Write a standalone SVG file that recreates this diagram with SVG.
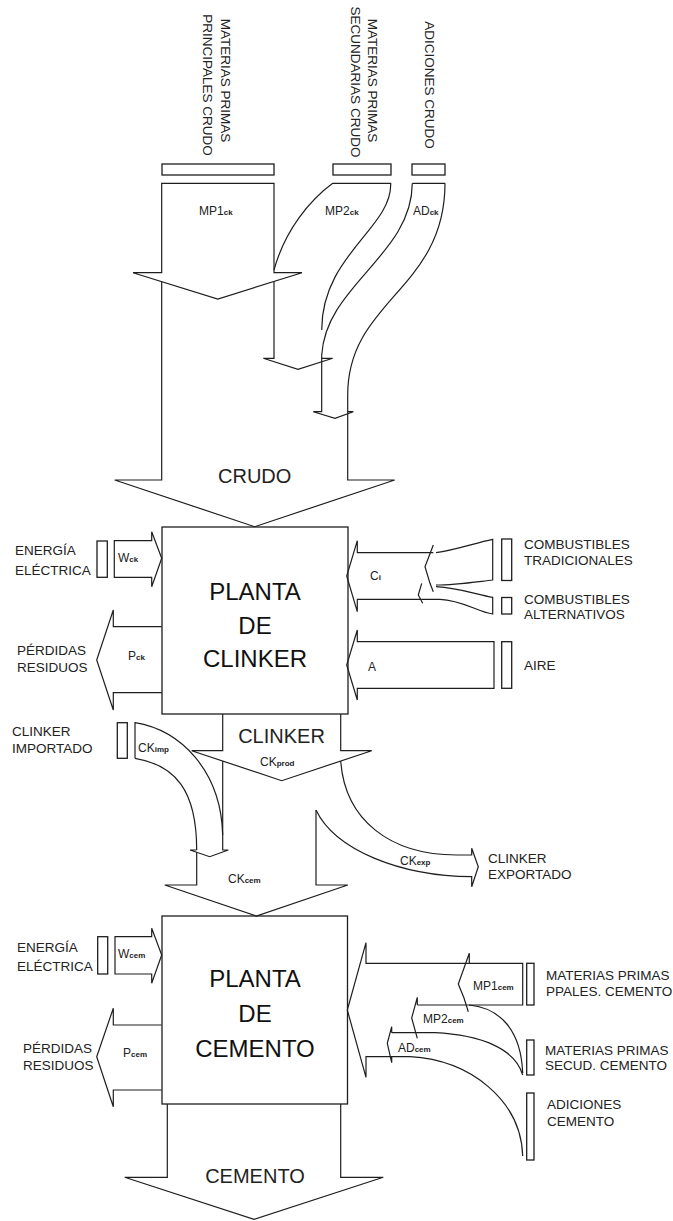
<svg xmlns="http://www.w3.org/2000/svg" width="673" height="1221" viewBox="0 0 673 1221">
<style>
.l{fill:none;stroke:#1e1e1e;stroke-width:1.2;stroke-linejoin:miter}
.bx{fill:none;stroke:#1e1e1e;stroke-width:1.3}
.t{font-family:"Liberation Sans",Arial,sans-serif;font-size:13.5px;fill:#222}
.lb{font-family:"Liberation Sans",Arial,sans-serif;font-size:12px;fill:#222}
.s{font-size:8px;font-weight:bold}
.big{font-family:"Liberation Sans",Arial,sans-serif;font-size:20px;fill:#222}
.ttl{font-family:"Liberation Sans",Arial,sans-serif;font-size:24px;fill:#111;text-anchor:middle}
</style>
<rect width="673" height="1221" fill="#fff"/>

<!-- source nodes -->
<g id="src-mp1ck">
<rect class="bx" x="162" y="164" width="112" height="11"/>
<text class="t" transform="translate(221,80.5) rotate(90)" text-anchor="middle">MATERIAS PRIMAS</text>
<text class="t" transform="translate(203,85) rotate(90)" text-anchor="middle">PRINCIPALES CRUDO</text>
</g>
<g id="src-mp2ck">
<rect class="bx" x="333" y="164" width="58" height="11"/>
<text class="t" transform="translate(368,80.5) rotate(90)" text-anchor="middle">MATERIAS PRIMAS</text>
<text class="t" transform="translate(351,82) rotate(90)" text-anchor="middle">SECUNDARIAS CRUDO</text>
</g>
<g id="src-adck">
<rect class="bx" x="412" y="164" width="33" height="11"/>
<text class="t" transform="translate(425,85) rotate(90)" text-anchor="middle">ADICIONES CRUDO</text>
</g>

<g id="planta-clinker">
<rect class="bx" x="162" y="527" width="186" height="187"/>
<text class="ttl" x="255" y="600">PLANTA</text>
<text class="ttl" x="255" y="633.5">DE</text>
<text class="ttl" x="255" y="667">CLINKER</text>
</g>

<g id="src-energia-ck">
<rect class="bx" x="97" y="541" width="10.3" height="36.3"/>
<text class="t" x="15" y="554.5">ENERGÍA</text>
<text class="t" x="15" y="574.5">ELÉCTRICA</text>
</g>
<g id="out-perdidas-ck">
<text class="t" x="17" y="655">PÉRDIDAS</text>
<text class="t" x="17" y="672">RESIDUOS</text>
</g>
<g id="src-comb-trad">
<rect class="bx" x="501.7" y="539" width="10" height="41.5"/>
<text class="t" x="524" y="548.5">COMBUSTIBLES</text>
<text class="t" x="524" y="564.5">TRADICIONALES</text>
</g>
<g id="src-comb-alt">
<rect class="bx" x="501.7" y="597.5" width="10" height="16.5"/>
<text class="t" x="524" y="603.5">COMBUSTIBLES</text>
<text class="t" x="524" y="618.5">ALTERNATIVOS</text>
</g>
<g id="src-aire">
<rect class="bx" x="501.7" y="641.7" width="10" height="46.6"/>
<text class="t" x="524" y="670">AIRE</text>
</g>
<g id="src-ckimp">
<rect class="bx" x="117.3" y="722.7" width="10" height="35.6"/>
<text class="t" x="12" y="736">CLINKER</text>
<text class="t" x="12" y="753">IMPORTADO</text>
</g>
<g id="out-ckexp">
<text class="t" x="488" y="863">CLINKER</text>
<text class="t" x="488" y="879">EXPORTADO</text>
</g>

<g id="planta-cemento">
<rect class="bx" x="162" y="916" width="185.5" height="188"/>
<text class="ttl" x="255" y="987">PLANTA</text>
<text class="ttl" x="255" y="1022">DE</text>
<text class="ttl" x="255" y="1057">CEMENTO</text>
</g>
<g id="src-energia-cem">
<rect class="bx" x="97.7" y="936.7" width="10" height="37.3"/>
<text class="t" x="17" y="951.7">ENERGÍA</text>
<text class="t" x="17" y="970.7">ELÉCTRICA</text>
</g>
<g id="out-perdidas-cem">
<text class="t" x="23" y="1053">PÉRDIDAS</text>
<text class="t" x="23" y="1070">RESIDUOS</text>
</g>
<g id="src-mp1cem">
<rect class="bx" x="526.7" y="963.3" width="7.3" height="41.7"/>
<text class="t" x="546" y="980">MATERIAS PRIMAS</text>
<text class="t" x="546" y="995.5">PPALES. CEMENTO</text>
</g>
<g id="src-mp2cem">
<rect class="bx" x="526.7" y="1040" width="7.3" height="35"/>
<text class="t" x="545" y="1055">MATERIAS PRIMAS</text>
<text class="t" x="545" y="1070">SECUD. CEMENTO</text>
</g>
<g id="src-adcem">
<rect class="bx" x="526.7" y="1093" width="7.3" height="67"/>
<text class="t" x="547" y="1109">ADICIONES</text>
<text class="t" x="547" y="1126">CEMENTO</text>
</g>

<g id="connectors">
<!-- MP1ck -->
<path class="l" d="M133,272.7 L161.7,272.7 L161.7,183.3 L274,183.3 L274,272.7 L302,272.7 L217.8,299 Z"/>
<!-- MP2ck -->
<path class="l" d="M274,270 C285,230 310,200 332.7,183.3 L390.7,183.3 C392,228 321.7,255 321.7,330"/>
<path class="l" d="M274,281.4 L274,358.3 L263.3,358.3 L298,369.3 L332.7,358.3 L321.7,358.3"/>
<!-- ADck -->
<path class="l" d="M412.3,183.3 L445,183.3"/>
<path class="l" d="M412.3,183.3 C412,255 326,285 321.7,355 L321.7,411.7 L313.3,411.7 L335,418.3 L353.3,411.7 L347.7,411.7"/>
<!-- crudo -->
<path class="l" d="M445,183.3 C445,290 347.7,300 347.7,395 L347.7,480 L394.7,480 L254.7,526.7 L114.7,480 L161.7,480 L161.7,281.6"/>
<!-- Wck -->
<path class="l" d="M151.7,540.7 L114.3,540.7 L114.3,577.3 L151.7,577.3 L151.7,586.7 L161.7,558.3 L151.7,531.7 Z"/>
<!-- Pck -->
<path class="l" d="M161.7,626.7 L113.3,626.7 L113.3,610 L96.7,660 L113.3,710 L113.3,692.7 L161.7,692.7"/>
<!-- Ci -->
<path class="l" d="M433.3,552.7 L357.3,552.7 L357.3,540.7 L346.7,576 L357.3,611.7 L357.3,599.3 L421.7,599.3"/>
<path class="l" d="M433.3,545 L425,566.7 L430,583.3 L433.3,591.7"/>
<path class="l" d="M436,552.7 C455,550 475,543 492.7,539.3 L492.7,580 C475,582 455,585 436,585"/>
<path class="l" d="M436,586.7 C460,588 478,595 492.7,597.3 L492.7,614 C478,612 462,600 440,599.3 L421.7,599.3"/>
<path class="l" d="M421.7,583.3 L418.3,595 L422.7,603.3"/>
<!-- A -->
<path class="l" d="M494,641.7 L357.3,641.7 L357.3,630 L346.7,665 L357.3,700 L357.3,688.3 L494,688.3 Z"/>
<!-- CKprod -->
<path class="l" d="M222.7,714 L222.7,750.7 L191.7,750.7 L281.7,780.7 L371.7,750.7 L340.7,750.7 L340.7,714"/>
<path class="l" d="M222.7,761 L222.7,850 L228.3,850 L209.7,856.7 L190,850 L196.7,850"/>
<!-- CKimp -->
<path class="l" d="M135,758.3 L135,722.7 C180,730 221,770 222.7,835"/>
<path class="l" d="M135,758.3 C175,765 196.7,790 196.7,850"/>
<!-- CKexp -->
<path class="l" d="M340.7,761 C345,820 390,855 456.7,855 L471.7,855 L471.7,848.3 L478.3,866.7 L471.7,886.7 L471.7,876.7 C400,876 335,850 316,810"/>
<!-- CKcem -->
<path class="l" d="M316,810 L316,885 L347.8,885 L256.3,916 L164.8,885 L196.7,885 L196.7,852.3"/>
<!-- Wcem -->
<path class="l" d="M151.7,936.7 L115,936.7 L115,974 L151.7,974 L151.7,983.3 L161.7,955 L151.7,928.3 Z"/>
<!-- Pcem -->
<path class="l" d="M161.7,1025 L113.3,1025 L113.3,1008.3 L96.7,1056.7 L113.3,1106.7 L113.3,1090 L161.7,1090"/>
<!-- cement inputs -->
<path class="l" d="M410,1056.7 L366,1056.7 L366,1077.3 L347.3,1010 L366,942.7 L366,963.3 L522.7,963.3 L522.7,1005 L417.3,1005"/>
<path class="l" d="M469.3,963.3 L469.3,953.3 L458.3,984 L464,998 L468.3,1011.7"/>
<path class="l" d="M417.3,1005 L417.3,997.3 L411.7,1018 L417.3,1038.3"/>
<path class="l" d="M391.7,1032.7 L435,1032.7 C480,1035 515,1048 522.7,1075"/>
<path class="l" d="M391.7,1032.7 L391.7,1026.7 L387.3,1043.3 L391.7,1062.7 L391.7,1056.7"/>
<path class="l" d="M469,1005 C500,1008 521,1030 522.7,1073"/>
<path class="l" d="M410,1056.7 C470,1060 521,1100 522.7,1156"/>
<!-- cemento out -->
<path class="l" d="M167.3,1104 L167.3,1177.3 L124.7,1177.3 L254,1219.3 L383.3,1177.3 L340.7,1177.3 L340.7,1104"/>
</g>

<g id="labels">
<text class="lb" x="199" y="215">MP1<tspan class="s">ck</tspan></text>
<text class="lb" x="325" y="215">MP2<tspan class="s">ck</tspan></text>
<text class="lb" x="413" y="215">AD<tspan class="s">ck</tspan></text>
<text class="big" x="254.7" y="483" text-anchor="middle">CRUDO</text>
<text class="lb" x="118" y="562">W<tspan class="s">ck</tspan></text>
<text class="lb" x="128" y="660">P<tspan class="s">ck</tspan></text>
<text class="lb" x="370" y="580">C<tspan class="s">i</tspan></text>
<text class="lb" x="368" y="670.7">A</text>
<text class="big" x="281.5" y="742.7" text-anchor="middle">CLINKER</text>
<text class="lb" x="260" y="766">CK<tspan class="s">prod</tspan></text>
<text class="lb" x="138" y="751.7">CK<tspan class="s">imp</tspan></text>
<text class="lb" x="400" y="865">CK<tspan class="s">exp</tspan></text>
<text class="lb" x="228" y="883">CK<tspan class="s">cem</tspan></text>
<text class="lb" x="118" y="958">W<tspan class="s">cem</tspan></text>
<text class="lb" x="123" y="1057">P<tspan class="s">cem</tspan></text>
<text class="lb" x="473" y="990">MP1<tspan class="s">cem</tspan></text>
<text class="lb" x="423" y="1023">MP2<tspan class="s">cem</tspan></text>
<text class="lb" x="398" y="1052">AD<tspan class="s">cem</tspan></text>
<text class="big" x="255" y="1182.7" text-anchor="middle">CEMENTO</text>
</g>
</svg>
